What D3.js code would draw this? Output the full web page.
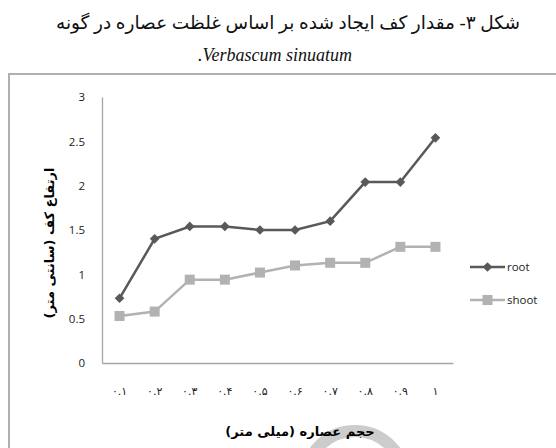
<!DOCTYPE html>
<html>
<head>
<meta charset="utf-8">
<script src="https://cdn.jsdelivr.net/npm/d3@7"></script>
<style>
  body { margin: 0; background: #fff; }
</style>
</head>
<body>
<script>
// data
var categories = ["۰.۱", "۰.۲", "۰.۳", "۰.۴", "۰.۵", "۰.۶", "۰.۷", "۰.۸", "۰.۹", "۱"];
var rootValues = [0.73, 1.40, 1.54, 1.54, 1.50, 1.50, 1.60, 2.04, 2.04, 2.54];
var shootValues = [0.53, 0.58, 0.94, 0.94, 1.02, 1.10, 1.13, 1.13, 1.31, 1.31];
var yTicks = [0, 0.5, 1, 1.5, 2, 2.5, 3];
var seriesNames = ["root", "shoot"];

var W = 556, H = 448;
var margin = { left: 102, top: 97, right: 453, bottom: 363 };

var svg = d3.select("body").append("svg")
            .attr("width", W)
            .attr("height", H);

// caption above the chart
svg.append("text")
   .attr("x", 288).attr("y", 29)
   .attr("text-anchor", "middle")
   .attr("direction", "rtl")
   .style("font-family", "'Liberation Serif', 'DejaVu Sans', serif")
   .style("font-size", "18.5px")
   .style("fill", "#111")
   .text("شکل ۳- مقدار کف ایجاد شده بر اساس غلظت عصاره در گونه");

svg.append("text")
   .attr("x", 275).attr("y", 61)
   .attr("text-anchor", "middle")
   .attr("direction", "ltr")
   .style("unicode-bidi", "bidi-override")
   .style("font-family", "'Liberation Serif', serif")
   .style("font-style", "italic")
   .style("font-size", "18px")
   .style("fill", "#111")
   .text(".Verbascum sinuatum");

// chart frame (runs off the right and bottom of the page)
svg.append("rect")
   .attr("x", 9).attr("y", 74)
   .attr("width", 560).attr("height", 400)
   .style("fill", "none")
   .style("stroke", "#b0b0b0")
   .style("stroke-width", 2);

// faint watermark ring near the bottom
svg.append("circle")
   .attr("cx", 355).attr("cy", 481)
   .attr("r", 50)
   .style("fill", "none")
   .style("stroke", "#cccccc")
   .style("stroke-width", 12);

var x = d3.scaleBand()
          .domain(categories)
          .range([margin.left, margin.right]);

var y = d3.scaleLinear()
          .domain([0, 3])
          .range([margin.bottom, margin.top]);

// y axis
var yAxis = svg.append("g")
               .attr("transform", "translate(" + margin.left + ",0)")
               .call(d3.axisLeft(y).tickValues(yTicks).tickSize(0).tickPadding(17)
                       .tickFormat(function(d) { return d; }));
yAxis.select(".domain").style("stroke", "#a6a6a6").style("stroke-width", 1.3);
yAxis.selectAll("text")
     .style("font-family", "'Open Sans', 'Noto Sans', sans-serif")
     .style("font-size", "11.5px")
     .style("fill", "#222");

// x axis
var xAxis = svg.append("g")
               .attr("transform", "translate(0," + margin.bottom + ")")
               .call(d3.axisBottom(x).tickSize(0).tickPadding(24));
xAxis.select(".domain").style("stroke", "#a6a6a6").style("stroke-width", 1.3);
xAxis.selectAll("text")
     .style("font-family", "'DejaVu Sans', sans-serif")
     .style("font-size", "11px")
     .style("fill", "#222");

// axis titles
svg.append("text")
   .attr("x", 300).attr("y", 436)
   .attr("text-anchor", "middle")
   .attr("direction", "rtl")
   .style("font-family", "'DejaVu Sans', sans-serif")
   .style("font-weight", "bold")
   .style("font-size", "13px")
   .text("حجم عصاره (میلی متر)");

svg.append("text")
   .attr("transform", "translate(54,243) rotate(-90)")
   .attr("text-anchor", "middle")
   .attr("direction", "rtl")
   .style("font-family", "'DejaVu Sans', sans-serif")
   .style("font-weight", "bold")
   .style("font-size", "13px")
   .text("ارتفاع کف (سانتی متر)");

// lines
var line = d3.line()
             .x(function(d, i) { return x(categories[i]) + x.bandwidth() / 2; })
             .y(function(d) { return y(d); });

svg.append("path")
   .datum(shootValues)
   .attr("d", line)
   .style("fill", "none")
   .style("stroke", "#b2b2b2")
   .style("stroke-width", 2.5);

svg.selectAll("rect.shoot")
   .data(shootValues)
   .enter()
   .append("rect")
   .attr("class", "shoot")
   .attr("x", function(d, i) { return x(categories[i]) + x.bandwidth() / 2 - 5; })
   .attr("y", function(d) { return y(d) - 5; })
   .attr("width", 10).attr("height", 10)
   .style("fill", "#b2b2b2");

svg.append("path")
   .datum(rootValues)
   .attr("d", line)
   .style("fill", "none")
   .style("stroke", "#595959")
   .style("stroke-width", 2.5);

var diamond = d3.symbol().type(d3.symbolDiamond2).size(60);
svg.selectAll("path.root")
   .data(rootValues)
   .enter()
   .append("path")
   .attr("class", "root")
   .attr("d", diamond)
   .attr("transform", function(d, i) {
     return "translate(" + (x(categories[i]) + x.bandwidth() / 2) + "," + y(d) + ")";
   })
   .style("fill", "#595959");

// legend
var legendY = [267, 300];
var legendColors = ["#595959", "#b2b2b2"];
var legend = svg.selectAll("g.legend")
                .data(seriesNames)
                .enter()
                .append("g")
                .attr("class", "legend")
                .attr("transform", function(d, i) { return "translate(470," + legendY[i] + ")"; });

legend.append("line")
      .attr("x1", 0).attr("x2", 35)
      .style("stroke", function(d, i) { return legendColors[i]; })
      .style("stroke-width", 2.5);

legend.each(function(d, i) {
  var g = d3.select(this);
  if (i === 0) {
    g.append("path").attr("d", diamond)
     .attr("transform", "translate(17.5,0)")
     .style("fill", legendColors[0]);
  } else {
    g.append("rect").attr("x", 12.5).attr("y", -5)
     .attr("width", 10).attr("height", 10)
     .style("fill", legendColors[1]);
  }
});

legend.append("text")
      .attr("x", 37).attr("y", 4)
      .style("font-family", "'Open Sans', 'Noto Sans', sans-serif")
      .style("font-size", "11.5px")
      .style("fill", "#222")
      .text(function(d) { return d; });
</script>
</body>
</html>
